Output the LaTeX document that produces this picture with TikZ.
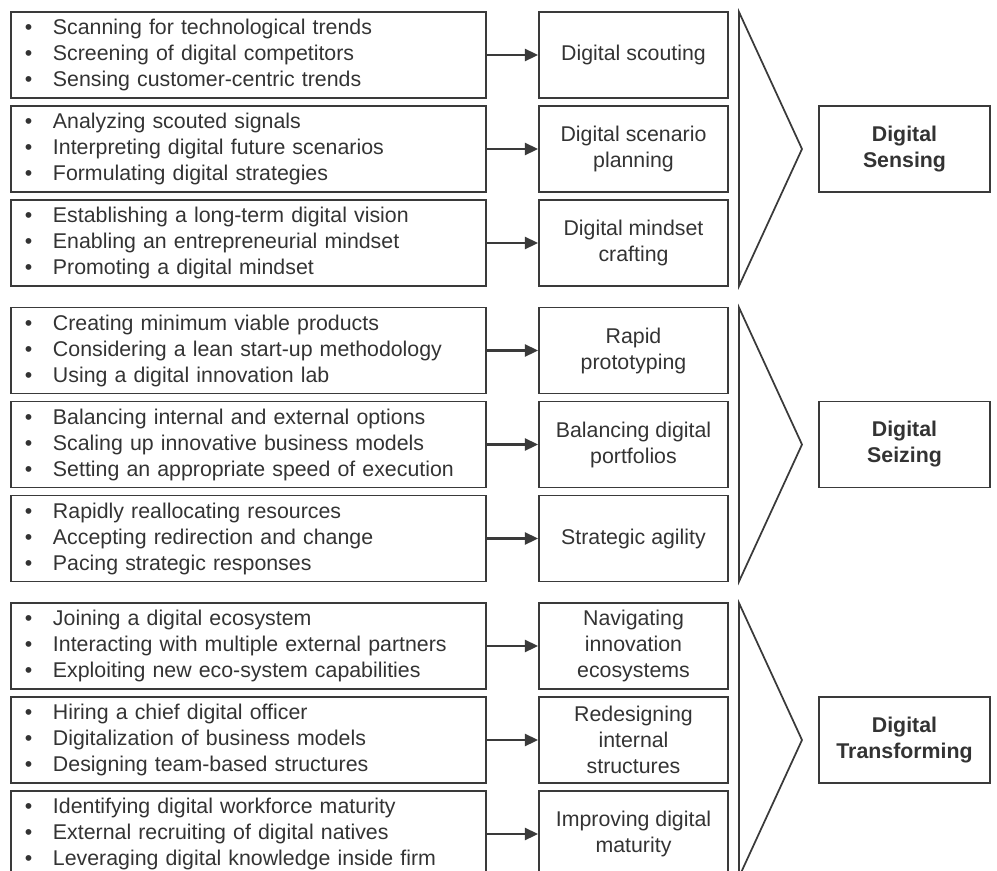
\documentclass[tikz,border=0pt]{standalone}
\usepackage{fontspec}
\setmainfont{Liberation Sans}
\usetikzlibrary{arrows.meta}
\definecolor{LineGray}{HTML}{3A3A3A}
\definecolor{InkGray}{HTML}{333333}
\newcommand{\bul}[1]{\makebox[21pt][l]{\textbullet}#1}

\begin{document}
\begin{tikzpicture}[
  x=0.75pt, y=-0.75pt,
  font=\fontsize{16}{19.5}\selectfont,
  list/.style={draw=LineGray, line width=1.3pt, text=InkGray, minimum height=64.5pt, text width=335.25pt, inner xsep=10.5pt, inner ysep=2pt, align=left},
  act/.style={draw=LineGray, line width=1.3pt, text=InkGray, minimum width=141.75pt, minimum height=64.5pt, inner ysep=2pt, align=center},
  goal/.style={draw=LineGray, line width=1.3pt, text=InkGray, minimum width=128.25pt, minimum height=64.5pt, align=center, font=\fontsize{16}{19.5}\selectfont\bfseries},
  chev/.style={draw=LineGray, line width=1.3pt, line join=miter},
  arr/.style={-{Triangle[length=10pt, width=9pt]}, line width=2pt, LineGray}
]
\clip (0,0) rectangle (997,871);
% sensing
\node[list] (l1) at (248.5,55) {\bul{Scanning for technological trends}\\\bul{Screening of digital competitors}\\\bul{Sensing customer-centric trends}};
\node[list] (l2) at (248.5,149) {\bul{Analyzing scouted signals}\\\bul{Interpreting digital future scenarios}\\\bul{Formulating digital strategies}};
\node[list] (l3) at (248.5,243) {\bul{Establishing a long-term digital vision}\\\bul{Enabling an entrepreneurial mindset}\\\bul{Promoting a digital mindset}};
\node[act] (m1) at (633.5,55) {Digital scouting};
\node[act] (m2) at (633.5,149) {Digital scenario\\planning};
\node[act] (m3) at (633.5,243) {Digital mindset\\crafting};
\node[goal] (r1) at (904.5,149) {Digital\\Sensing};
\draw[chev] (739,12) -- (802,149) -- (739,286) -- cycle;
% seizing
\node[list] (l4) at (248.5,350.5) {\bul{Creating minimum viable products}\\\bul{Considering a lean start-up methodology}\\\bul{Using a digital innovation lab}};
\node[list] (l5) at (248.5,444.5) {\bul{Balancing internal and external options}\\\bul{Scaling up innovative business models}\\\bul{Setting an appropriate speed of execution}};
\node[list] (l6) at (248.5,538.5) {\bul{Rapidly reallocating resources}\\\bul{Accepting redirection and change}\\\bul{Pacing strategic responses}};
\node[act] (m4) at (633.5,350.5) {Rapid\\prototyping};
\node[act] (m5) at (633.5,444.5) {Balancing digital\\portfolios};
\node[act] (m6) at (633.5,538.5) {Strategic agility};
\node[goal] (r2) at (904.5,444.5) {Digital\\Seizing};
\draw[chev] (739,307.5) -- (802,444.5) -- (739,581.5) -- cycle;
% transforming
\node[list] (l7) at (248.5,646) {\bul{Joining a digital ecosystem}\\\bul{Interacting with multiple external partners}\\\bul{Exploiting new eco-system capabilities}};
\node[list] (l8) at (248.5,740) {\bul{Hiring a chief digital officer}\\\bul{Digitalization of business models}\\\bul{Designing team-based structures}};
\node[list] (l9) at (248.5,834) {\bul{Identifying digital workforce maturity}\\\bul{External recruiting of digital natives}\\\bul{Leveraging digital knowledge inside firm}};
\node[act] (m7) at (633.5,646) {Navigating\\innovation\\ecosystems};
\node[act] (m8) at (633.5,740) {Redesigning\\internal\\structures};
\node[act] (m9) at (633.5,834) {Improving digital\\maturity};
\node[goal] (r3) at (904.5,740) {Digital\\Transforming};
\draw[chev] (739,603) -- (802,740) -- (739,877) -- cycle;
% arrows
\draw[arr] (l1) -- (m1);
\draw[arr] (l2) -- (m2);
\draw[arr] (l3) -- (m3);
\draw[arr] (l4) -- (m4);
\draw[arr] (l5) -- (m5);
\draw[arr] (l6) -- (m6);
\draw[arr] (l7) -- (m7);
\draw[arr] (l8) -- (m8);
\draw[arr] (l9) -- (m9);
\end{tikzpicture}
\end{document}
